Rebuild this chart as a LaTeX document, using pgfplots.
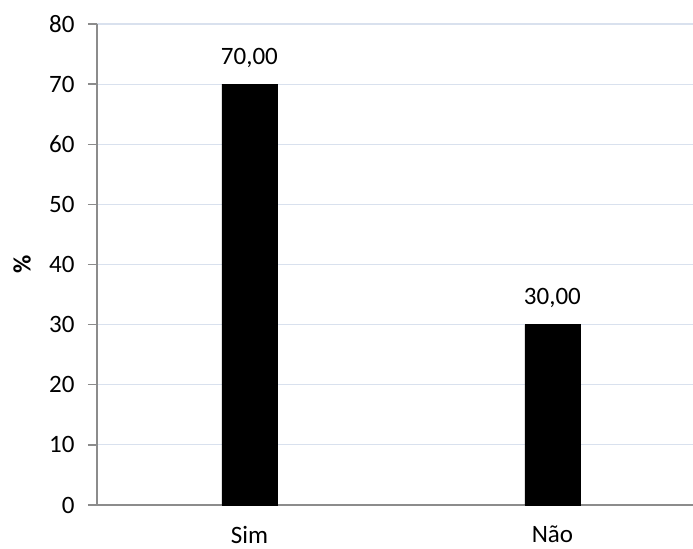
\documentclass[border=0pt]{standalone}
\usepackage{fontspec}
\setmainfont{Carlito}
\usepackage{pgfplots}
\pgfplotsset{compat=1.18}
\definecolor{gridc}{HTML}{D9E1EE}
\definecolor{axc}{HTML}{8C8C8C}
\begin{document}
\begin{tikzpicture}
\begin{axis}[
  scale only axis,
  width=596pt, height=481pt,
  xmin=-0.503, xmax=1.464,
  ymin=0, ymax=80,
  ytick={0,10,...,80},
  xtick={0,1},
  xticklabels={Sim,Não},
  ymajorgrids,
  major grid style={gridc, line width=1.2pt},
  axis x line*=bottom,
  axis y line*=left,
  axis line style={axc, line width=1.3pt},
  y axis line style={-},
  x axis line style={-},
  ytick style={axc, line width=1.3pt},
  xtick style={draw=none},
  tick align=outside,
  major tick length=9pt,
  tick label style={font=\fontsize{25}{29}\selectfont},
  /pgf/number format/assume math mode=true,
  ylabel={\textbf{\%}},
  ylabel style={font=\fontsize{25}{29}\selectfont, at={(axis description cs:0,0.5)}, anchor=center, yshift=75pt},
  yticklabel style={xshift=-10pt},
  xticklabel style={yshift=-11pt, inner ysep=1pt},
  nodes near coords,
  nodes near coords style={font=\fontsize{25}{29}\selectfont, yshift=13pt,
    /pgf/number format/fixed, /pgf/number format/fixed zerofill,
    /pgf/number format/precision=2, /pgf/number format/use comma},
  clip=false,
]
\addplot[ybar, bar width=55pt, fill=black, draw=black] coordinates {(0,70) (1,30)};
\end{axis}
\pgfresetboundingbox
\path (current axis.south west) ++(-97pt,-44pt) coordinate (bl);
\path (current axis.north east) ++(0pt,24pt) coordinate (tr);
\path[use as bounding box] (bl) rectangle (tr);
\end{tikzpicture}
\end{document}
